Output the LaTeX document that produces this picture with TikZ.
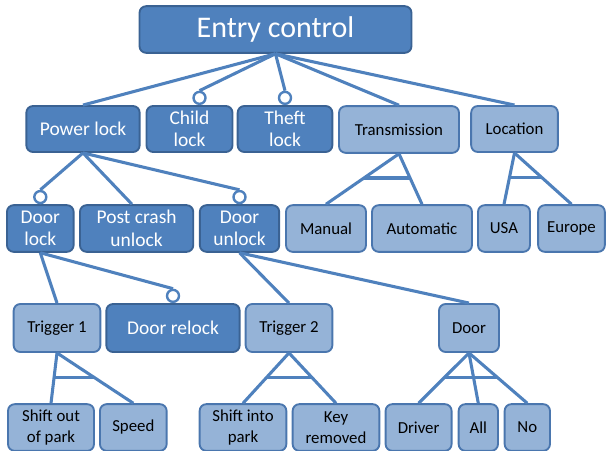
\documentclass[tikz,border=0pt]{standalone}
\usepackage{fontspec}
\setmainfont{Carlito}
\usetikzlibrary{calc}
\definecolor{featdark}{HTML}{4F81BD}
\definecolor{featdarkline}{HTML}{3A6293}
\definecolor{featlight}{HTML}{95B3D7}
\definecolor{featlightline}{HTML}{4A76AE}
\definecolor{linkblue}{HTML}{4F81BD}
\begin{document}
\begin{tikzpicture}[x=0.75pt,y=-0.75pt,
    dark/.style={draw=featdarkline, fill=featdark, line width=1.4pt, rounded corners=5pt,
        text=white, align=center, inner sep=0pt, font=\fontsize{14.6}{16.8}\selectfont},
    light/.style={draw=featlightline, fill=featlight, line width=1.4pt, rounded corners=5pt,
        text=black, align=center, inner sep=0pt, font=\fontsize{12.6}{15.6}\selectfont},
    link/.style={draw=linkblue, line width=2.3pt},
    hollow/.style={circle, draw=linkblue, fill=white, line width=1.8pt, minimum size=9pt, inner sep=0pt}]
    \useasboundingbox (0,0) rectangle (607,450);
    % root
    \node[dark, minimum width=204pt, minimum height=35pt, font=\fontsize{22.5}{26}\selectfont] (root) at (275.5,29.5) {Entry control};
    % first row
    \node[dark, minimum width=85pt, minimum height=34.5pt] (power) at (83,129) {Power lock};
    \node[dark, minimum width=64.5pt, minimum height=34.5pt] (child) at (189.5,129) {Child\\lock};
    \node[dark, minimum width=71pt, minimum height=34.5pt] (theft) at (285,129) {Theft\\lock};
    \node[light, minimum width=90pt, minimum height=35pt] (trans) at (399,129.5) {Transmission};
    \node[light, minimum width=65pt, minimum height=34.5pt] (loc) at (514.5,129) {Location};
    % second row
    \node[dark, minimum width=50pt, minimum height=35pt] (dlock) at (40.3,228.5) {Door\\lock};
    \node[dark, minimum width=85pt, minimum height=35pt] (crash) at (136.6,228.5) {Post crash\\unlock};
    \node[dark, minimum width=59.5pt, minimum height=35pt] (dunlock) at (239.5,228.5) {Door\\unlock};
    \node[light, minimum width=60pt, minimum height=35pt] (manual) at (326,228.5) {Manual};
    \node[light, minimum width=75pt, minimum height=35pt] (auto) at (422,228.5) {Automatic};
    \node[light, minimum width=39pt, minimum height=35pt] (usa) at (504,228.5) {USA};
    \node[light, minimum width=50pt, minimum height=35pt] (europe) at (571.5,228.5) {Europe};
    % third row
    \node[light, minimum width=65pt, minimum height=36pt] (trig1) at (57,328) {Trigger 1};
    \node[dark, minimum width=100pt, minimum height=36pt] (relock) at (173,328) {Door relock};
    \node[light, minimum width=65pt, minimum height=36pt] (trig2) at (289,328) {Trigger 2};
    \node[light, minimum width=45pt, minimum height=36pt] (door) at (469,328) {Door};
    % fourth row
    \node[light, minimum width=64.5pt, minimum height=35pt] (sop) at (51,427.5) {Shift out\\of park};
    \node[light, minimum width=50pt, minimum height=35pt] (speed) at (133.3,427.5) {Speed};
    \node[light, minimum width=65pt, minimum height=35pt] (sip) at (243,427.5) {Shift into\\park};
    \node[light, minimum width=65pt, minimum height=35pt] (key) at (336,427.5) {Key\\removed};
    \node[light, minimum width=49.5pt, minimum height=35pt] (driver) at (418.6,427.5) {Driver};
    \node[light, minimum width=29.5pt, minimum height=35pt] (all) at (478.3,427.5) {All};
    \node[light, minimum width=34pt, minimum height=35pt] (no) at (527.3,427.5) {No};
    % optional marks
    \node[hollow, anchor=south] (ochild) at ([xshift=7.5pt]child.north) {};
    \node[hollow, anchor=south] (otheft) at (theft.north) {};
    \node[hollow, anchor=south] (odlock) at (dlock.north) {};
    \node[hollow, anchor=south] (odunlock) at (dunlock.north) {};
    \node[hollow, anchor=south] (orelock) at (relock.north) {};
    % links
    \draw[link] (root.south) -- (power.north);
    \draw[link] (root.south) -- (ochild.north);
    \draw[link] (root.south) -- (otheft.north);
    \draw[link] (root.south) -- (trans.north);
    \draw[link] (root.south) -- (loc.north);
    \draw[link] (power.south) -- (odlock.north);
    \draw[link] (power.south) -- ([xshift=-3.5pt]crash.north);
    \draw[link] (power.south) -- (odunlock.north);
    \draw[link] (dlock.south) -- (trig1.north);
    \draw[link] (dlock.south) -- (orelock.north);
    \draw[link] (dunlock.south) -- (trig2.north);
    \draw[link] (dunlock.south) -- (door.north);
    % alternative groups
    \foreach \p/\a/\b in {trans/manual/auto, loc/usa/europe, trig1/sop/speed, trig2/sip/key, door/driver/no} {
        \draw[link] (\p.south) -- (\a.north);
        \draw[link] (\p.south) -- (\b.north);
        \draw[link] ($(\p.south)!0.48!(\a.north)$) -- ($(\p.south)!0.48!(\b.north)$);
    }
    \draw[link] (door.south) -- (all.north);
\end{tikzpicture}
\end{document}
